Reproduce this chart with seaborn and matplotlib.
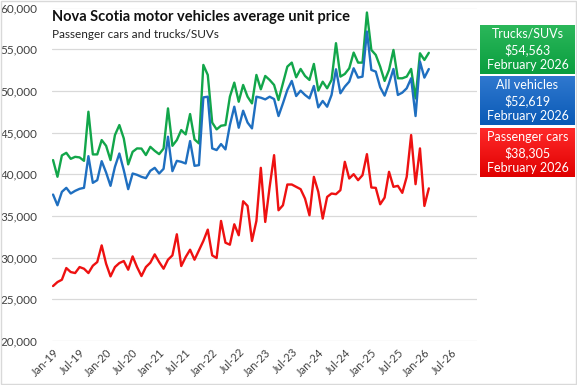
import numpy as np
import pandas as pd
import matplotlib
matplotlib.use('Agg')
import matplotlib.pyplot as plt
import seaborn as sns
from matplotlib.patches import Rectangle
from matplotlib.colors import LinearSegmentedColormap

# monthly average unit price, Jan-2019 .. Feb-2026
trucks_suvs = [41700, 39700, 42260, 42570, 41850, 42090, 42020, 41610, 47500, 42380,
               42380, 44100, 43410, 41700, 44700, 45900, 44300, 41180, 42690, 43100,
               43080, 42300, 43290, 42810, 42410, 43080, 47900, 43410, 44100, 45300,
               44780, 47220, 44180, 43700, 53110, 51910, 46200, 45380, 45820, 45900,
               49300, 50990, 48700, 50710, 49300, 48500, 51910, 50190, 51790, 51310,
               50710, 48900, 50910, 52910, 53390, 51630, 52630, 51790, 51310, 53230,
               50030, 51100, 50310, 51310, 55720, 51710, 52030, 52710, 54590, 53390,
               53390, 59400, 54910, 54310, 52910, 51190, 52510, 54910, 51510, 51510,
               51710, 52630, 49100, 54510, 53710, 54563]
all_vehicles = [37565, 36280, 37890, 38370, 37690, 38010, 38250, 38370, 42170, 38970,
                39290, 41570, 40210, 38610, 40890, 42490, 40490, 38210, 40090, 39930,
                39690, 39530, 40410, 40770, 40090, 40650, 44500, 40370, 41610, 41490,
                41290, 43980, 41010, 41090, 49220, 49300, 43100, 42900, 43620, 42980,
                45900, 48100, 45580, 47620, 46200, 45500, 49300, 49180, 48980, 49300,
                49020, 46980, 48500, 50110, 51190, 49380, 50030, 49510, 49100, 50590,
                48020, 48790, 48100, 49510, 52590, 49710, 50510, 51110, 52710, 51590,
                51710, 57120, 52510, 52310, 50430, 49430, 50910, 52630, 49510, 49790,
                50310, 51510, 46980, 53510, 51590, 52619]
passenger_cars = [26590, 27070, 27350, 28750, 28270, 28150, 28870, 28670, 28150, 29030,
                  29470, 31470, 29270, 27750, 28870, 29350, 29590, 28550, 30150, 28870,
                  27790, 28870, 29390, 30390, 29470, 28670, 29750, 30270, 32800, 28990,
                  30070, 30950, 29750, 30870, 32000, 33360, 30270, 29950, 34400, 31790,
                  31550, 34000, 32680, 36760, 36200, 32000, 34400, 40770, 34280, 38500,
                  42290, 35680, 36280, 38770, 38770, 38490, 38210, 37080, 35080, 39690,
                  37890, 34680, 37280, 37690, 37610, 38090, 41490, 39490, 40010, 39290,
                  39890, 42410, 38410, 38370, 36400, 37200, 40290, 38490, 38610, 37770,
                  39690, 44700, 38810, 43100, 36200, 38305]
months = list(range(len(trucks_suvs)))

tick_labels = ['Jan-19', 'Jul-19', 'Jan-20', 'Jul-20', 'Jan-21', 'Jul-21', 'Jan-22', 'Jul-22',
               'Jan-23', 'Jul-23', 'Jan-24', 'Jul-24', 'Jan-25', 'Jul-25', 'Jan-26', 'Jul-26']
series_names = ['Trucks/SUVs', 'All vehicles', 'Passenger cars']
latest_labels = ['$54,563', '$52,619', '$38,305']
latest_month = 'February 2026'

colors = {'Trucks/SUVs': '#12a64a', 'All vehicles': '#1f6fc0', 'Passenger cars': '#ee1111'}
box_grad = [('#2bb75a', '#0a9e3f'), ('#2f78cf', '#0a5ab6'), ('#ff2a2a', '#e00000')]

df = pd.DataFrame({'month': months,
                   'Trucks/SUVs': trucks_suvs,
                   'All vehicles': all_vehicles,
                   'Passenger cars': passenger_cars})
long = df.melt(id_vars='month', var_name='series', value_name='price')

sns.set_theme(style='white')
plt.rcParams['font.family'] = ['Lato', 'DejaVu Sans']

fig = plt.figure(figsize=(5.77, 3.85), dpi=100)
ax = fig.add_axes([51.5 / 577, 1 - 341 / 385, 425.5 / 577, 333.5 / 385])

sns.lineplot(data=long, x='month', y='price', hue='series', hue_order=series_names,
             palette=colors, linewidth=1.7, legend=False, ax=ax)

ax.set_ylim(20000, 60000)
ax.set_yticks(range(20000, 60001, 5000))
ax.set_yticklabels([f'{v:,}' for v in range(20000, 60001, 5000)], fontsize=8.5, color='#404040')
ax.set_xlim(-0.35, 95.9)
ax.set_xticks(range(0, 91, 6))
ax.set_xticklabels(tick_labels, rotation=45, ha='right', rotation_mode='anchor',
                   fontsize=8, color='#404040')
ax.tick_params(axis='both', length=0)
ax.tick_params(axis='y', pad=10)
ax.tick_params(axis='x', pad=4)
ax.set_xlabel('')
ax.set_ylabel('')
ax.grid(axis='y', color='#d9d9d9', linewidth=0.9)
ax.grid(axis='x', visible=False)
for s in ax.spines.values():
    s.set_visible(False)

fig.text(52 / 577, 1 - 17 / 385, 'Nova Scotia motor vehicles average unit price',
         fontsize=10.5, fontweight='bold', color='#111111', va='center')
fig.text(52 / 577, 1 - 34 / 385, 'Passenger cars and trucks/SUVs',
         fontsize=8.5, color='#222222', va='center')

# value boxes on the right
box_tops = [25, 76, 128]
for name, value, top, (c1, c2) in zip(series_names, latest_labels, box_tops, box_grad):
    bax = fig.add_axes([480 / 577, 1 - (top + 49) / 385, 95 / 577, 49 / 385])
    cmap = LinearSegmentedColormap.from_list('g', [c2, c1])
    bax.imshow(np.linspace(1, 0, 50).reshape(-1, 1), aspect='auto', cmap=cmap,
               extent=[0, 1, 0, 1])
    bax.set_axis_off()
    for yy, txt in zip([0.82, 0.5, 0.18], [name, value, latest_month]):
        bax.text(0.5, yy, txt, ha='center', va='center', color='white', fontsize=9)

fig.patches.append(Rectangle((0.001, 0.002), 0.997, 0.996, transform=fig.transFigure,
                             fill=False, edgecolor='#d9d9d9', linewidth=1))

fig.savefig('out.png', dpi=100, facecolor='white')
